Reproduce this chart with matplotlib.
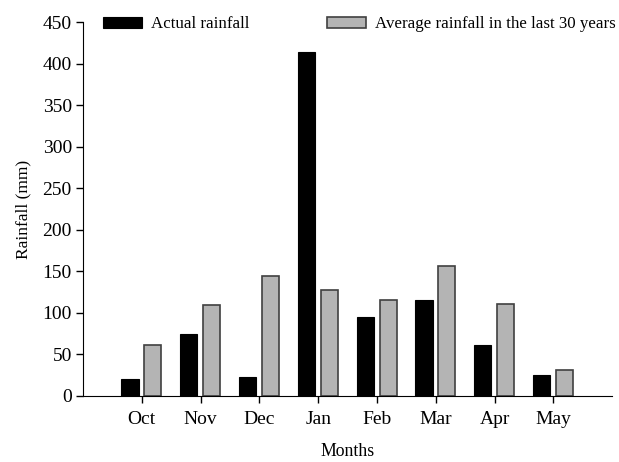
import numpy as np
import matplotlib.pyplot as plt

plt.rcParams['font.family'] = ['Liberation Serif', 'DejaVu Serif']

months = ['Oct', 'Nov', 'Dec', 'Jan', 'Feb', 'Mar', 'Apr', 'May']
actual = [20, 75, 23, 414, 95, 115, 61, 25]
average = [61, 109, 144, 128, 116, 156, 111, 31]

x = np.arange(len(months))
w = 0.29

fig = plt.figure(figsize=(6.19, 4.62), dpi=100)
ax = fig.add_axes([0.134, 0.143, 0.855, 0.809])

ax.bar(x - 0.2, actual, w, color='black', edgecolor='black', linewidth=0.8,
       label='Actual rainfall')
ax.bar(x + 0.19, average, w, color='#b4b4b4', edgecolor='#404040', linewidth=1.2,
       label='Average rainfall in the last 30 years')

ax.set_xlim(-1, 8)
ax.set_ylim(0, 450)
ax.set_yticks(np.arange(0, 451, 50))
ax.set_xticks(x)
ax.set_xticklabels(months)

for s in ['top', 'right']:
    ax.spines[s].set_visible(False)
ax.tick_params(axis='both', labelsize=14, direction='out', length=5, width=1)
ax.tick_params(axis='x', pad=6)
ax.tick_params(axis='y', pad=3)

ax.set_ylabel('Rainfall (mm)', fontsize=12.5, labelpad=8)
ax.set_xlabel('Months', fontsize=12.8, labelpad=11)

ax.legend(ncol=2, loc='center left', bbox_to_anchor=(0.038, 0.995), frameon=False,
          fontsize=12.2, handlelength=2.3, handleheight=0.62, columnspacing=4.6,
          handletextpad=0.53, borderaxespad=0, borderpad=0)

fig.savefig('out.png', dpi=100)
